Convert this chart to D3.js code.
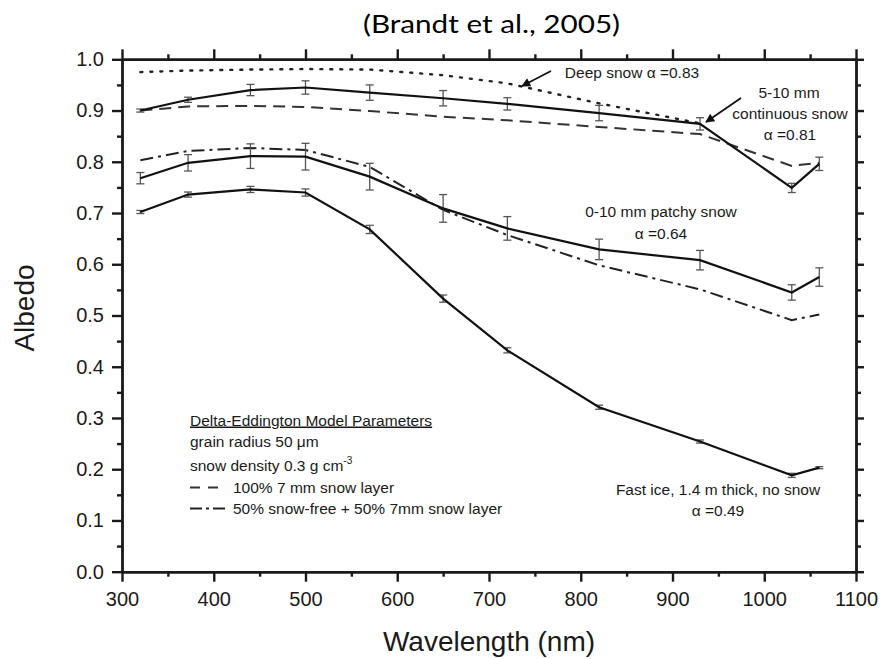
<html>
<head>
  <meta charset="utf-8">
  <title>Albedo vs wavelength</title>
  <style>
    body { margin: 0; padding: 0; background: #fff; }
    svg text { font-family: "Liberation Sans", Arial, sans-serif; fill: #1a1a1a; }
    .axis path, .axis line { stroke: #1a1a1a; stroke-width: 2.4px; }
    .axis text { font-size: 20px; }
    .note { font-size: 15.5px; }
    .err { stroke: #555; stroke-width: 1.3px; }
  </style>
</head>
<body>
  <div id="chart"></div>
  <script src="https://cdnjs.cloudflare.com/ajax/libs/d3/7.8.5/d3.min.js"></script>
  <script>
    // wavelengths (nm) of the measurements
    var wavelengths = [320, 372, 440, 500, 570, 650, 720, 820, 930, 1030, 1060];

    // measured albedo, with error bar half-widths
    var continuous = [0.900, 0.921, 0.940, 0.945, 0.935, 0.924, 0.913, 0.895, 0.874, 0.749, 0.796];
    var continuousErr = [0.003, 0.005, 0.011, 0.013, 0.015, 0.015, 0.012, 0.015, 0.012, 0.009, 0.013];
    var patchy = [0.768, 0.798, 0.811, 0.810, 0.771, 0.709, 0.670, 0.629, 0.608, 0.545, 0.575];
    var patchyErr = [0.011, 0.016, 0.024, 0.026, 0.026, 0.027, 0.023, 0.020, 0.019, 0.015, 0.018];
    var fastIce = [0.702, 0.736, 0.746, 0.740, 0.668, 0.533, 0.432, 0.321, 0.254, 0.188, 0.203];
    var fastIceErr = [0.003, 0.005, 0.006, 0.007, 0.008, 0.007, 0.005, 0.004, 0.003, 0.004, 0.002];

    // Delta-Eddington model curves
    var model100 = [0.900, 0.908, 0.909, 0.907, 0.899, 0.888, 0.881, 0.868, 0.854, 0.792, 0.798];
    var model50 = [0.803, 0.821, 0.827, 0.823, 0.790, 0.706, 0.657, 0.598, 0.551, 0.491, 0.502];

    // deep snow (dotted), stops where it meets the continuous snow line
    var deepWavelengths = [320, 372, 440, 500, 570, 650, 720, 820, 930];
    var deepSnow = [0.975, 0.978, 0.980, 0.981, 0.980, 0.969, 0.953, 0.914, 0.875];

    var xTicks = [300, 400, 500, 600, 700, 800, 900, 1000, 1100];
    var xMinor = [350, 450, 550, 650, 750, 850, 950, 1050];
    var yTicks = [0, 0.1, 0.2, 0.3, 0.4, 0.5, 0.6, 0.7, 0.8, 0.9, 1.0];
    var yMinor = [0.05, 0.15, 0.25, 0.35, 0.45, 0.55, 0.65, 0.75, 0.85, 0.95];

    var width = 886, height = 659;
    var plotLeft = 122, plotRight = 856, plotTop = 59.3, plotBottom = 571.7;

    var svg = d3.select("#chart").append("svg")
      .attr("width", width)
      .attr("height", height);

    var defs = svg.append("defs");
    defs.append("marker")
      .attr("id", "arrow")
      .attr("viewBox", "0 0 10 10")
      .attr("refX", 9).attr("refY", 5)
      .attr("markerWidth", 7).attr("markerHeight", 5)
      .attr("markerUnits", "strokeWidth")
      .attr("orient", "auto")
      .append("path")
      .attr("d", "M0,0L10,5L0,10z")
      .attr("fill", "#111");

    var x = d3.scaleLinear().domain([300, 1100]).range([plotLeft, plotRight]);
    var y = d3.scaleLinear().domain([0, 1]).range([plotBottom, plotTop]);

    // axes: major + minor ticks on all four sides, ticks outward
    function addAxis(axis, tx, ty) {
      svg.append("g").attr("class", "axis")
        .attr("transform", "translate(" + tx + "," + ty + ")")
        .call(axis);
    }
    addAxis(d3.axisBottom(x).tickValues(xTicks).tickSize(10).tickSizeOuter(0).tickPadding(10).tickFormat(d3.format("d")), 0, plotBottom);
    addAxis(d3.axisBottom(x).tickValues(xMinor).tickSize(5).tickSizeOuter(0).tickFormat(""), 0, plotBottom);
    addAxis(d3.axisTop(x).tickValues(xTicks).tickSize(10).tickSizeOuter(0).tickFormat(""), 0, plotTop);
    addAxis(d3.axisTop(x).tickValues(xMinor).tickSize(5).tickSizeOuter(0).tickFormat(""), 0, plotTop);
    addAxis(d3.axisLeft(y).tickValues(yTicks).tickSize(10).tickSizeOuter(0).tickPadding(8).tickFormat(d3.format(".1f")), plotLeft, 0);
    addAxis(d3.axisLeft(y).tickValues(yMinor).tickSize(5).tickSizeOuter(0).tickFormat(""), plotLeft, 0);
    addAxis(d3.axisRight(y).tickValues(yTicks).tickSize(8).tickSizeOuter(0).tickFormat(""), plotRight, 0);
    addAxis(d3.axisRight(y).tickValues(yMinor).tickSize(5).tickSizeOuter(0).tickFormat(""), plotRight, 0);
    svg.selectAll(".axis text").style("font-family", "'Liberation Sans', Arial, sans-serif");

    // axis titles
    svg.append("text")
      .attr("x", 489)
      .attr("y", 651)
      .attr("text-anchor", "middle")
      .style("font-size", "28px")
      .text("Wavelength (nm)");
    svg.append("text")
      .attr("transform", "translate(34,308) rotate(-90)")
      .attr("text-anchor", "middle")
      .style("font-size", "28px")
      .text("Albedo");

    // title
    svg.append("text")
      .attr("x", 491.5)
      .attr("y", 33)
      .attr("text-anchor", "middle")
      .attr("textLength", 257)
      .attr("lengthAdjust", "spacingAndGlyphs")
      .style("font-family", "Lato, 'Open Sans', sans-serif")
      .style("font-size", "25px")
      .style("fill", "#000")
      .text("(Brandt et al., 2005)");

    var line = d3.line()
      .x(function(d) { return x(d[0]); })
      .y(function(d) { return y(d[1]); });

    function series(xs, ys) {
      return xs.map(function(w, i) { return [w, ys[i]]; });
    }

    function drawLine(xs, ys, dash, color, w) {
      svg.append("path")
        .datum(series(xs, ys))
        .attr("d", line)
        .attr("fill", "none")
        .attr("stroke", color)
        .attr("stroke-width", w)
        .attr("stroke-dasharray", dash)
        .attr("stroke-linecap", dash === "2,8" ? "round" : "butt");
    }

    drawLine(deepWavelengths, deepSnow, "2,8", "#222", 2.4);
    drawLine(wavelengths, model100, "12,7", "#333", 2);
    drawLine(wavelengths, model50, "13,5,3,5", "#222", 2);

    function drawErrors(ys, errs) {
      var g = svg.append("g");
      wavelengths.forEach(function(w, i) {
        var cx = x(w), lo = y(ys[i] - errs[i]), hi = y(ys[i] + errs[i]);
        g.append("line").attr("class", "err").attr("x1", cx).attr("x2", cx).attr("y1", lo).attr("y2", hi);
        g.append("line").attr("class", "err").attr("x1", cx - 4).attr("x2", cx + 4).attr("y1", lo).attr("y2", lo);
        g.append("line").attr("class", "err").attr("x1", cx - 4).attr("x2", cx + 4).attr("y1", hi).attr("y2", hi);
      });
    }

    drawErrors(continuous, continuousErr);
    drawErrors(patchy, patchyErr);
    drawErrors(fastIce, fastIceErr);
    drawLine(wavelengths, continuous, null, "#111", 2.2);
    drawLine(wavelengths, patchy, null, "#111", 2.2);
    drawLine(wavelengths, fastIce, null, "#111", 2.2);

    // annotations
    function note(tx, ty, anchor, str) {
      return svg.append("text")
        .attr("class", "note")
        .attr("x", tx).attr("y", ty)
        .attr("text-anchor", anchor)
        .text(str);
    }
    note(632, 78, "middle", "Deep snow \u03b1 =0.83");
    note(789, 98, "middle", "5-10 mm");
    note(790, 119, "middle", "continuous snow");
    note(790, 140, "middle", "\u03b1 =0.81");
    note(661, 217, "middle", "0-10 mm patchy snow");
    note(661, 239, "middle", "\u03b1 =0.64");
    note(718, 495, "middle", "Fast ice, 1.4 m thick, no snow");
    note(718, 516, "middle", "\u03b1 =0.49");

    svg.append("line")
      .attr("x1", 551).attr("y1", 71)
      .attr("x2", 522).attr("y2", 86)
      .attr("stroke", "#111").attr("stroke-width", 1.8)
      .attr("marker-end", "url(#arrow)");
    svg.append("line")
      .attr("x1", 741).attr("y1", 98)
      .attr("x2", 706).attr("y2", 122)
      .attr("stroke", "#111").attr("stroke-width", 1.8)
      .attr("marker-end", "url(#arrow)");

    // model legend block
    note(190, 425.5, "start", "Delta-Eddington Model Parameters")
      .style("text-decoration", "underline");
    note(190, 446.5, "start", "grain radius 50 \u03bcm");
    var dens = note(190, 471, "start", "snow density 0.3 g cm");
    dens.append("tspan").attr("dy", -7).style("font-size", "10px").text("-3");
    svg.append("line")
      .attr("x1", 190).attr("x2", 218).attr("y1", 487.5).attr("y2", 487.5)
      .attr("stroke", "#333").attr("stroke-width", 2).attr("stroke-dasharray", "10,8");
    note(233, 493, "start", "100% 7 mm snow layer");
    svg.append("line")
      .attr("x1", 190).attr("x2", 228).attr("y1", 508.5).attr("y2", 508.5)
      .attr("stroke", "#222").attr("stroke-width", 2).attr("stroke-dasharray", "12,4,3,4");
    note(233, 514, "start", "50% snow-free + 50% 7mm snow layer");
  </script>
</body>
</html>
